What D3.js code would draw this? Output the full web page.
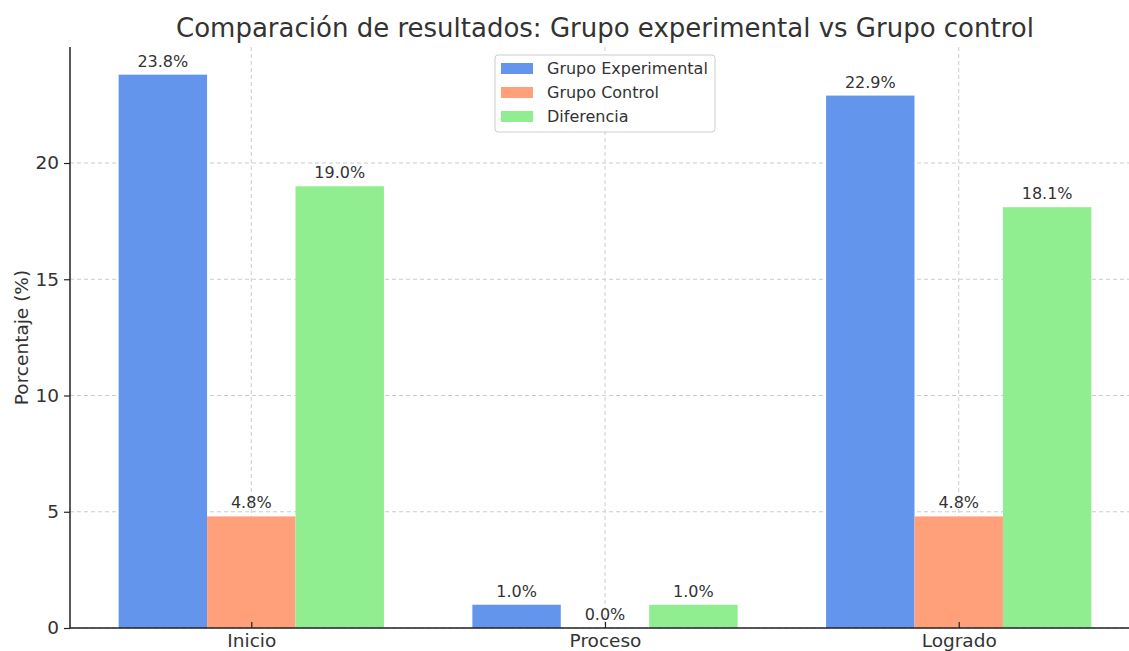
<!DOCTYPE html>
<html><head><meta charset="utf-8">
<script src="https://cdn.jsdelivr.net/npm/d3@7"></script>
<style>body{margin:0;background:#fff}svg{display:block}text{font-family:"DejaVu Sans",sans-serif}</style>
</head><body><svg id="c" width="1129" height="651"></svg>
<script>
const categories = ["Inicio", "Proceso", "Logrado"];
const seriesNames = ["Grupo Experimental", "Grupo Control", "Diferencia"];
const experimental = [23.8, 1.0, 22.9];
const control = [4.8, 0.0, 4.8];
const diferencia = [19.0, 1.0, 18.1];
const yTicks = [0, 5, 10, 15, 20];
const colors = ["#6495ED", "#FFA07A", "#90EE90"];
const seriesValues = [experimental, control, diferencia];

(function () {
const svg = d3.select("#c");
const pL = 70, pR = 1140, pT = 47, pB = 628;
const barW = 0.25;
const x = d3.scaleLinear().domain([-0.5125, 2.5125]).range([pL, pR]);
const y = d3.scaleLinear().domain([0, 23.8 * 1.05]).range([pB, pT]);
const txt = "#333";

// grid
const grid = svg.append("g");
yTicks.forEach(t => grid.append("line").attr("x1", pL).attr("x2", pR).attr("y1", y(t)).attr("y2", y(t))
  .attr("stroke", "#ccc").attr("stroke-width", 1).attr("stroke-dasharray", "4,3"));
categories.forEach((c, i) => grid.append("line").attr("x1", x(i)).attr("x2", x(i)).attr("y1", pT).attr("y2", pB)
  .attr("stroke", "#ccc").attr("stroke-width", 1).attr("stroke-dasharray", "4,3"));

// bars
seriesValues.forEach((vals, s) => {
  const off = (s - 1) * barW;
  svg.append("g").selectAll("rect").data(vals).join("rect")
    .attr("x", (d, i) => x(i + off - barW / 2))
    .attr("width", (d, i) => x(i + off + barW / 2) - x(i + off - barW / 2))
    .attr("y", d => y(d)).attr("height", d => y(0) - y(d))
    .attr("fill", colors[s]);
  svg.append("g").selectAll("text").data(vals).join("text")
    .attr("x", (d, i) => x(i + off)).attr("y", d => y(d) - 8)
    .attr("text-anchor", "middle").attr("font-size", 16).attr("fill", txt)
    .text(d => d.toFixed(1) + "%");
});

// axes
const yAxis = d3.axisLeft(y).tickValues(yTicks).tickSize(6).tickPadding(5).tickFormat(d3.format("d"));
const ya = svg.append("g").attr("transform", `translate(${pL},0)`).call(yAxis);
ya.select(".domain").attr("stroke", "#222").attr("stroke-width", 1.5).attr("d", `M0,${pT}V${pB}`);
ya.selectAll(".tick line").attr("stroke", "#222").attr("stroke-width", 1.2);
ya.selectAll(".tick text").attr("font-size", 18.5).attr("fill", txt).attr("font-family", "DejaVu Sans");

const xAxis = d3.axisBottom(x).tickValues(categories.map((c, i) => i)).tickSize(0).tickPadding(6)
  .tickFormat(i => categories[i]);
const xa = svg.append("g").attr("transform", `translate(0,${pB})`).call(xAxis);
xa.select(".domain").attr("stroke", "#222").attr("stroke-width", 1.5).attr("d", `M${pL},0H${pR}`);
xa.selectAll(".tick text").attr("font-size", 18.5).attr("fill", txt).attr("font-family", "DejaVu Sans");
xa.selectAll(".tick").append("line").attr("y1", 0).attr("y2", -6).attr("stroke", "#222").attr("stroke-width", 1.2);

// title & y label
svg.append("text").attr("x", (pL + pR) / 2).attr("y", 37).attr("text-anchor", "middle")
  .attr("font-size", 26).attr("fill", txt).text("Comparación de resultados: Grupo experimental vs Grupo control");
svg.append("text").attr("transform", `translate(28,${(pT + pB) / 2}) rotate(-90)`).attr("text-anchor", "middle")
  .attr("font-size", 18.5).attr("fill", txt).text("Porcentaje (%)");

// legend
const lg = svg.append("g").attr("transform", "translate(495,55)");
lg.append("rect").attr("width", 220).attr("height", 77).attr("rx", 3).attr("fill", "#fff").attr("fill-opacity", 0.85)
  .attr("stroke", "#ccc");
seriesNames.forEach((n, i) => {
  lg.append("rect").attr("x", 6).attr("y", 8 + i * 24).attr("width", 32).attr("height", 11).attr("fill", colors[i]);
  lg.append("text").attr("x", 52).attr("y", 19 + i * 24).attr("font-size", 16).attr("fill", txt).text(n);
});
})();
</script></body></html>
